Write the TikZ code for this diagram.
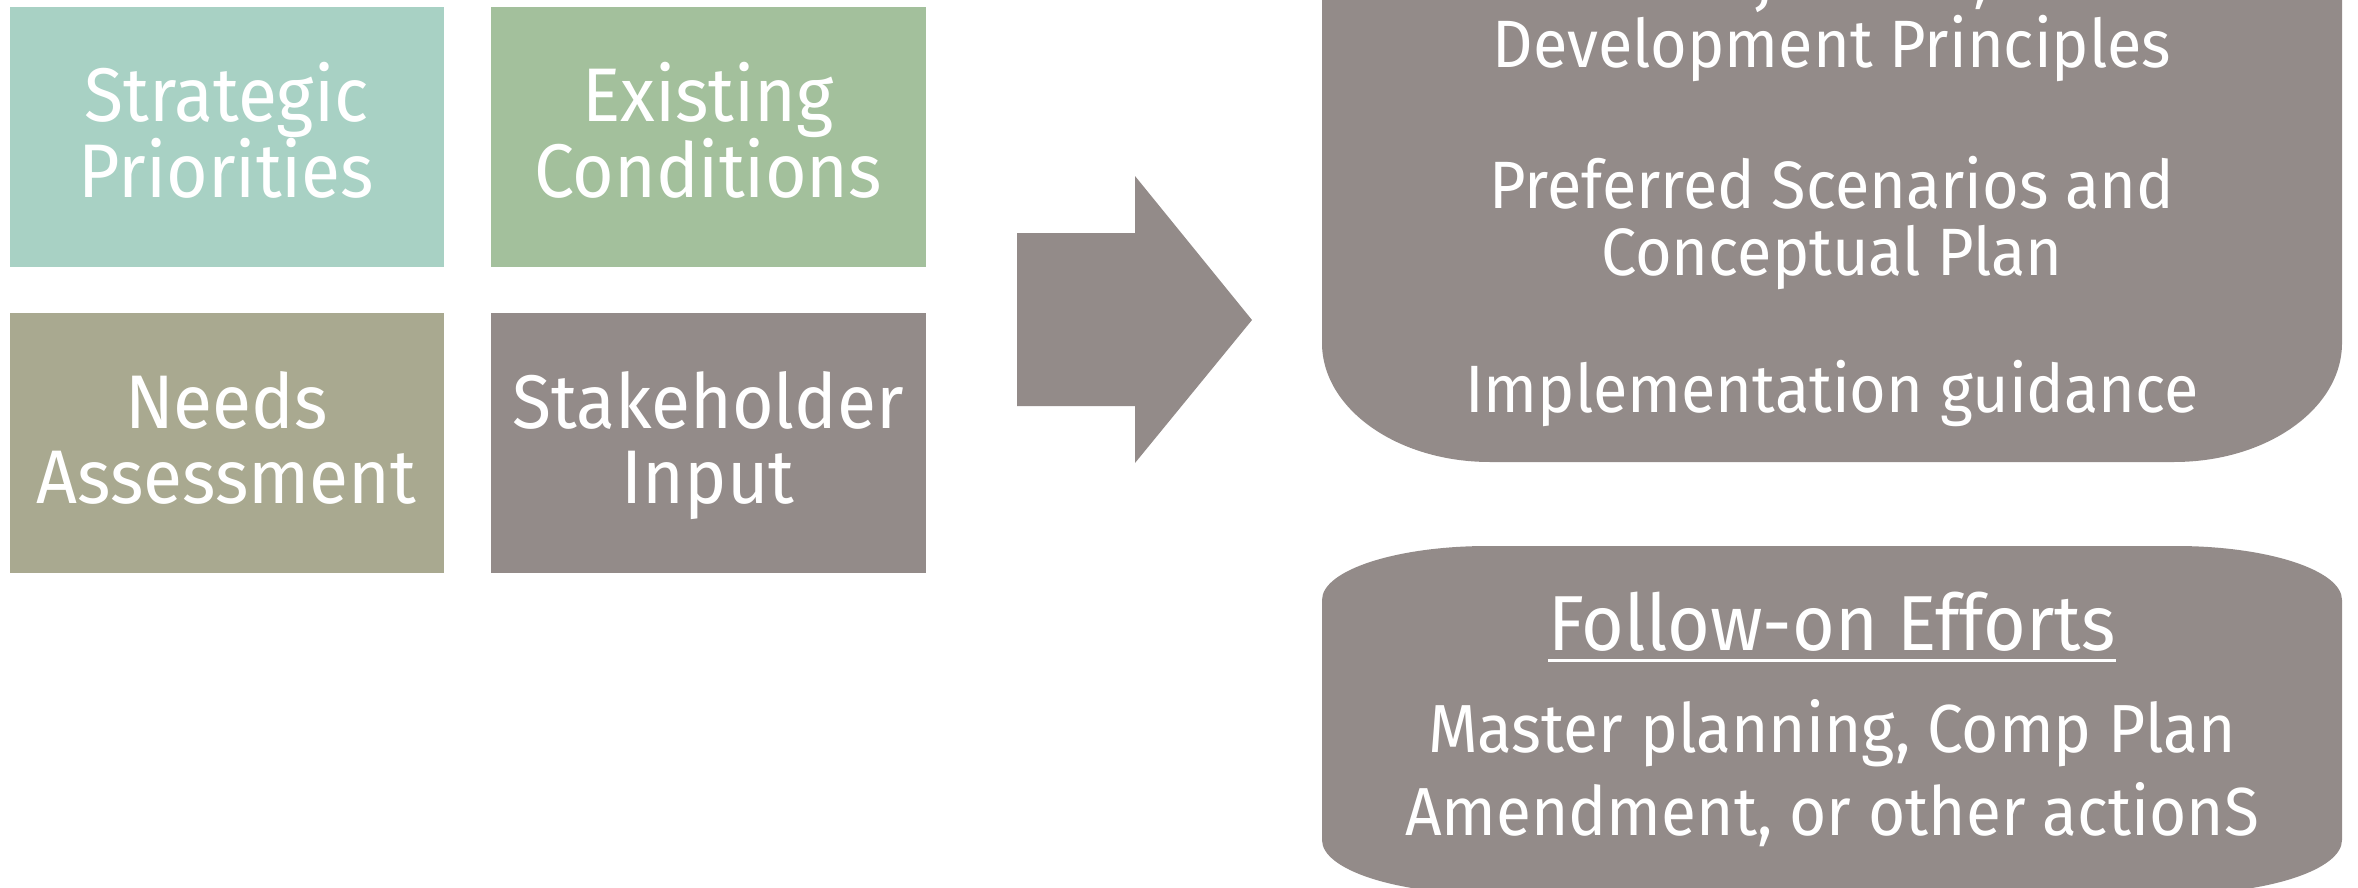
\documentclass[tikz,border=0pt]{standalone}
\usepackage{fontspec}
\setmainfont{Fira Sans}[FakeStretch=0.94]
\definecolor{cteal}{RGB}{168,209,196}
\definecolor{cgreen}{RGB}{163,192,156}
\definecolor{colive}{RGB}{169,169,144}
\definecolor{cgray}{RGB}{147,139,137}
\begin{document}
\begin{tikzpicture}[x=1pt,y=-1pt,
  sq/.style={inner sep=0pt, outer sep=0pt, minimum width=434.5pt, minimum height=260pt, anchor=north west},
  lbl/.style={text=white, inner sep=0pt, anchor=base, font=\fontsize{76}{76}\selectfont},
  rlbl/.style={text=white, inner sep=0pt, anchor=base, font=\fontsize{67}{67}\selectfont},
  blbl/.style={text=white, inner sep=0pt, anchor=base, font=\fontsize{68}{68}\selectfont},
  hlbl/.style={text=white, inner sep=0pt, anchor=base, font=\fontsize{78}{78}\selectfont}
]
\useasboundingbox (0,0) rectangle (2358,888);
\clip (0,0) rectangle (2358,888);
% four input squares
\node[sq, fill=cteal]  (sp) at (9.5,7) {};
\node[sq, fill=cgreen] (ec) at (491,7) {};
\node[sq, fill=colive] (na) at (9.5,313) {};
\node[sq, fill=cgray]  (si) at (491,313) {};
\node[lbl] (sp1) at (226.5,122) {Strategic};
\node[lbl] (sp2) at (226.5,197) {Priorities};
\node[lbl] (ec1) at (708,122) {Existing};
\node[lbl] (ec2) at (708,197) {Conditions};
\node[lbl] (na1) at (226.5,428) {Needs};
\node[lbl] (na2) at (226.5,503) {Assessment};
\node[lbl] (si1) at (708,428) {Stakeholder};
\node[lbl] (si2) at (708,503) {Input};
% block arrow
\fill[cgray] (1017,233) -- (1135,233) -- (1135,176) -- (1252,320) -- (1135,463) -- (1135,406) -- (1017,406) -- cycle;
% upper result box
\fill[cgray] (1322,-200) -- (1322,343) .. controls (1322,408.7) and (1397.2,462) .. (1490,462)
  -- (2174,462) .. controls (2266.8,462) and (2342,408.7) .. (2342,343) -- (2342,-200) -- cycle;
% lower result box
\fill[cgray] (1322,600) .. controls (1322,570.2) and (1396.3,546) .. (1488,546) -- (2176,546)
  .. controls (2267.7,546) and (2342,570.2) .. (2342,600) -- (2342,840)
  .. controls (2342,869.8) and (2267.7,894) .. (2176,894) -- (1488,894)
  .. controls (1396.3,894) and (1322,869.8) .. (1322,840) -- cycle;
% upper box text (first line runs off the top edge)
\node[rlbl, anchor=base west] (ob) at (1675,-1) {Objectives,};
\node[rlbl] (dp) at (1832,68) {Development Principles};
\node[rlbl] (ps) at (1832,208) {Preferred Scenarios and};
\node[rlbl] (cp) at (1832,275) {Conceptual Plan};
\node[rlbl] (ig) at (1832,412) {Implementation guidance};
% lower box text
\node[hlbl] (fo) at (1832,650) {Follow-on Efforts};
\draw[white, line width=3pt] ([yshift=-10pt]fo.base west) -- ([yshift=-10pt]fo.base east);
\node[blbl] (mp) at (1832,752) {Master planning, Comp Plan};
\node[blbl] (am) at (1832,835) {Amendment, or other actionS};
\end{tikzpicture}
\end{document}
